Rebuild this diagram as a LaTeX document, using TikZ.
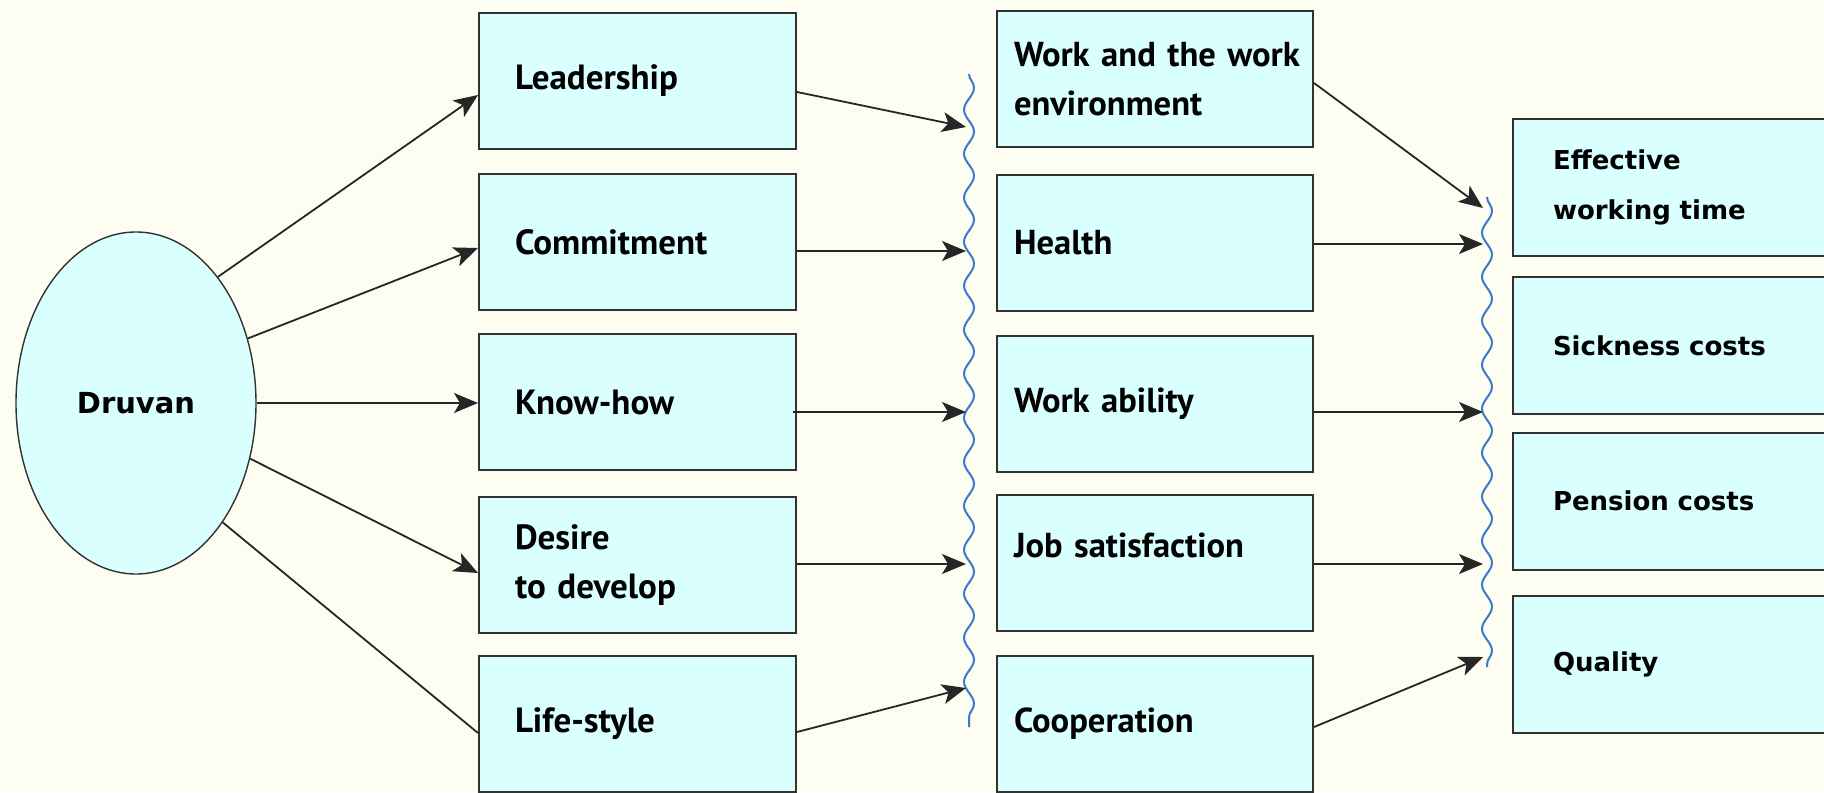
\documentclass[tikz,border=0pt]{standalone}
\usepackage{fontspec}
\usetikzlibrary{arrows.meta, decorations.pathmorphing, shapes.geometric}
\newfontfamily\boxfont{PT Sans}
\newfontfamily\roundfont{DejaVu Sans}
\definecolor{paper}{RGB}{254,253,241}
\definecolor{boxfill}{RGB}{217,255,255}
\definecolor{boxline}{RGB}{50,50,50}
\definecolor{wavecol}{RGB}{60,120,205}
\tikzset{>={Stealth[length=12pt, width=10pt, inset=3pt]}}

\begin{document}
\begin{tikzpicture}[x=0.5pt, y=-0.5pt,
    decoration={snake, segment length=22pt, amplitude=2.5pt},
    box/.style={draw=boxline, line width=1pt, fill=boxfill, inner ysep=0pt,
        minimum height=68pt, align=left},
    leftbox/.style={box, text width=122.5pt, inner xsep=18pt,
        font=\boxfont\bfseries\fontsize{17.5}{24.5}\selectfont},
    midbox/.style={box, text width=141pt, inner xsep=8.5pt,
        font=\boxfont\bfseries\fontsize{17.3}{24.5}\selectfont},
    rightbox/.style={box, text width=140pt, inner xsep=20pt, minimum height=68.5pt,
        font=\roundfont\bfseries\fontsize{13}{25}\selectfont},
    link/.style={draw=black!85, line width=0.9pt},
    wavy/.style={draw=wavecol, line width=1pt, decorate}]
    \useasboundingbox (0,0) rectangle (1824,792);
    \clip (0,0) rectangle (1824,792);
    \fill[paper] (0,0) rectangle (1824,792);
    % source
    \node (dru) [ellipse, draw=boxline, line width=0.7pt, fill=boxfill, inner sep=0pt,
        minimum width=120pt, minimum height=171pt,
        font=\roundfont\bfseries\fontsize{14.5}{18}\selectfont] at (136,403) {Druvan};
    % first column
    \node (lead)   [leftbox] at (637.5,81)  {Leadership};
    \node (commit) [leftbox] at (637.5,242) {Commitment};
    \node (know)   [leftbox] at (637.5,402) {Know-how};
    \node (desire) [leftbox] at (637.5,565) {Desire\\to develop};
    \node (life)   [leftbox] at (637.5,724) {Life-style};
    % second column
    \node (work)    [midbox] at (1155,79)  {\mbox{Work and the work}\\environment};
    \node (health)  [midbox] at (1155,243) {Health};
    \node (ability) [midbox] at (1155,404) {Work ability};
    \node (satis)   [midbox] at (1155,563) {Job satisfaction\vspace{18pt}};
    \node (coop)    [midbox] at (1155,724) {Cooperation};
    % third column
    \node (efftime) [rightbox] at (1693,187.5) {Effective\\working time};
    \node (sick)    [rightbox] at (1693,345.5) {Sickness costs};
    \node (pension) [rightbox] at (1693,501)   {Pension costs};
    \node (quality) [rightbox] at (1693,664)   {Quality};
    % wavy brackets
    \coordinate (wa1) at (969,74);
    \coordinate (wa2) at (969,727);
    \coordinate (wb1) at (1487,197);
    \coordinate (wb2) at (1487,667);
    \draw[wavy] (wa1) -- (wa2);
    \draw[wavy] (wb1) -- (wb2);
    % arrow tips on the brackets
    \coordinate (ta1) at (966,127);
    \coordinate (ta2) at (966,251);
    \coordinate (ta3) at (966,412);
    \coordinate (ta4) at (966,564);
    \coordinate (ta5) at (966,688);
    \coordinate (tb1) at (1483,208);
    \coordinate (tb2) at (1483,244);
    \coordinate (tb3) at (1483,412);
    \coordinate (tb4) at (1483,564);
    \coordinate (tb5) at (1483,657);
    % source to first column
    \draw[link, ->] (dru.57)  -- ([yshift=-7pt]lead.west);
    \draw[link, ->] (dru.30)  -- ([yshift=-3pt]commit.west);
    \draw[link, ->] (dru.east) -- (dru.east -| know.west);
    \draw[link, ->] (dru.-26) -- ([yshift=-4pt]desire.west);
    \draw[link]     (dru.-54) -- ([yshift=-4.5pt]life.west);
    % first column to bracket
    \draw[link, ->] ([yshift=-5.5pt]lead.east) -- (ta1);
    \draw[link, ->] ([yshift=-4.5pt]commit.east) -- (ta2);
    \draw[link, ->] ([xshift=-2pt, yshift=-5pt]know.east) -- (ta3);
    \draw[link, ->] (desire.east |- ta4) -- (ta4);
    \draw[link, ->] ([yshift=-4pt]life.east) -- (ta5);
    % second column to bracket
    \draw[link, ->] ([yshift=-2pt]work.east) -- (tb1);
    \draw[link, ->] (health.east |- tb2) -- (tb2);
    \draw[link, ->] (ability.east |- tb3) -- (tb3);
    \draw[link, ->] (satis.east |- tb4) -- (tb4);
    \draw[link, ->] ([yshift=-1.5pt]coop.east) -- (tb5);
\end{tikzpicture}
\end{document}
